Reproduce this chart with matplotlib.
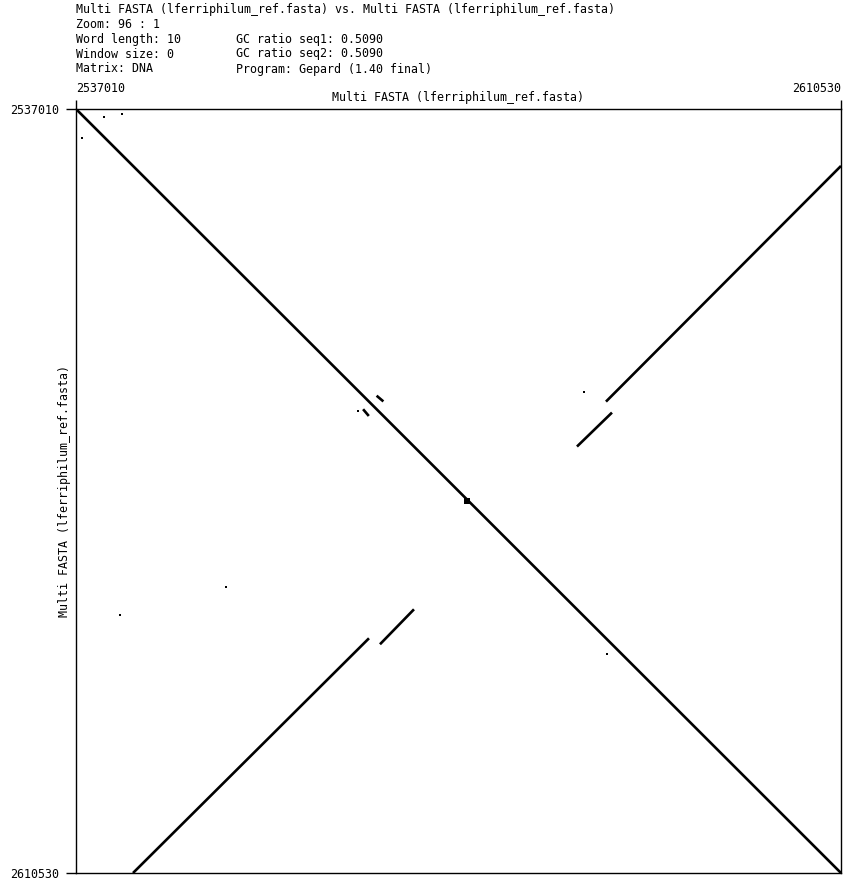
import matplotlib.pyplot as plt

# sequence range (same sequence on both axes)
seq_start = 2537010
seq_end = 2610530
tick_labels = ["2537010", "2610530"]

title_lines = [
    "Multi FASTA (lferriphilum_ref.fasta) vs. Multi FASTA (lferriphilum_ref.fasta)",
    "Zoom: 96 : 1",
]
info_left = ["Word length: 10", "Window size: 0", "Matrix: DNA"]
info_right = ["GC ratio seq1: 0.5090", "GC ratio seq2: 0.5090", "Program: Gepard (1.40 final)"]
axis_name = "Multi FASTA (lferriphilum_ref.fasta)"

# match segments: (x1, y1, x2, y2) in sequence positions
segments = [
    (2537010, 2537010, 2610530, 2610530),   # main diagonal
    (2587943, 2565167, 2610530, 2542488),   # inverted repeat, upper right
    (2588520, 2566224, 2585156, 2569492),
    (2566224, 2588520, 2569492, 2585156),   # mirrored, lower left
    (2565167, 2587943, 2542488, 2610530),
    (2565900, 2564600, 2566550, 2565150),   # short pieces near diagonal
    (2564600, 2565900, 2565150, 2566550),
]

# isolated darker hits
dot_x = [2539700, 2537600, 2541400, 2541200, 2588000, 2585800, 2564100, 2551400]
dot_y = [2537800, 2539800, 2537500, 2585700, 2589500, 2564200, 2566100, 2583000]
blob_x = [2574600]
blob_y = [2574700]

W, H = 867, 882
fig = plt.figure(figsize=(W / 100, H / 100), dpi=100)
ax = fig.add_axes([76 / W, 9 / H, 765 / W, 764 / H])

for x1, y1, x2, y2 in segments:
    ax.plot([x1, x2], [y1, y2], color="black", lw=1.9, solid_capstyle="butt")

ax.plot(dot_x, dot_y, "s", color="black", ms=1.6, mew=0)
ax.plot(blob_x, blob_y, "s", color="black", ms=3.8, mew=0)

ax.set_xlim(seq_start, seq_end)
ax.set_ylim(seq_end, seq_start)

mono = "DejaVu Sans Mono"
fs = 8.35
ax.xaxis.tick_top()
ax.set_xticks([seq_start, seq_end])
xl = ax.set_xticklabels(tick_labels, family=mono, fontsize=fs)
xl[0].set_ha("left")
xl[1].set_ha("right")
ax.set_yticks([seq_start, seq_end])
ax.set_yticklabels(tick_labels, family=mono, fontsize=fs)
ax.tick_params(axis="x", length=6.5, width=1, pad=3.5, direction="out")
ax.tick_params(axis="y", length=7, width=1, pad=5, direction="out")
for sp in ax.spines.values():
    sp.set_linewidth(1)


def px(x, y):
    return x / W, 1 - y / H


for i, t in enumerate(title_lines):
    fig.text(*px(76, 9 + i * 15), t, family=mono, fontsize=fs, va="center")
for i, t in enumerate(info_left):
    fig.text(*px(76, 39 + i * 15), t, family=mono, fontsize=fs, va="center")
for i, t in enumerate(info_right):
    fig.text(*px(236, 39 + i * 15), t, family=mono, fontsize=fs, va="center")

fig.text(*px(458, 98), axis_name, family=mono, fontsize=fs, ha="center", va="center")
fig.text(*px(65, 491), axis_name, family=mono, fontsize=fs, ha="center", va="center",
         rotation=90)

fig.savefig("out.png", dpi=100)
